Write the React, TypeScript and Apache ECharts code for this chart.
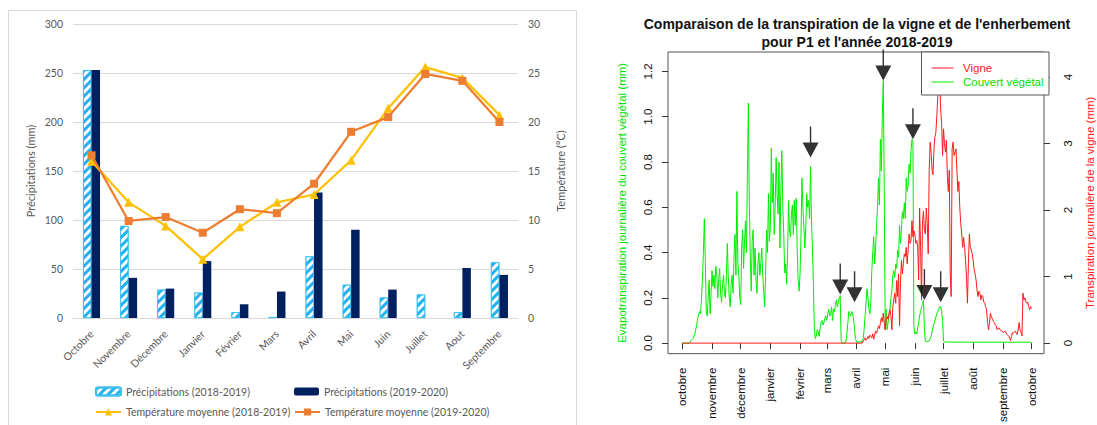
import React, { useEffect, useRef } from 'react';
import * as echarts from 'echarts';

// ---------- Left chart data ----------
const months = ['Octobre', 'Novembre', 'Décembre', 'Janvier', 'Février', 'Mars', 'Avril', 'Mai', 'Juin', 'Juillet', 'Aout', 'Septembre'];
const precip1819 = [253, 94, 29, 26, 6, 1, 63, 34, 21, 24, 6, 57];
const precip1920 = [253, 41, 30, 58, 14, 27, 128, 90, 29, 0, 51, 44];
const temp1819 = [16.0, 11.8, 9.4, 6.0, 9.3, 11.8, 12.6, 16.1, 21.4, 25.6, 24.5, 20.7];
const temp1920 = [16.6, 9.9, 10.3, 8.7, 11.1, 10.7, 13.7, 19.0, 20.5, 24.9, 24.2, 20.0];
const NAME_P1 = 'Précipitations (2018-2019)';
const NAME_P2 = 'Précipitations (2019-2020)';
const NAME_T1 = 'Température moyenne (2018-2019)';
const NAME_T2 = 'Température moyenne (2019-2020)';

// ---------- Right chart data (day 0 = 1 octobre 2018) ----------
const monthTickDays = [0, 31, 61, 92, 123, 151, 182, 212, 243, 273, 304, 335, 365];
const monthTickLabels = ['octobre', 'novembre', 'décembre', 'janvier', 'février', 'mars', 'avril', 'mai', 'juin', 'juillet', 'août', 'septembre', 'octobre'];
const greenTicks = [0, 0.2, 0.4, 0.6, 0.8, 1.0, 1.2];
const redTicks = [0, 1, 2, 3, 4];

const coverET: [number, number][] = [
  [0, 0], [7, 0], [9, 0.01], [11, 0.02], [13, 0.04], [15, 0.08], [16, 0.11], [18, 0.14], [19, 0.13], [20, 0.2], [21, 0.28], [22, 0.4], [23, 0.55], [24, 0.36], [25, 0.14], [26, 0.12], [27, 0.2], [28, 0.28], [29, 0.13], [30, 0.22], [31, 0.32], [32, 0.25], [33, 0.3], [34, 0.24], [35, 0.34], [36, 0.3], [37, 0.2], [38, 0.28], [39, 0.33], [40, 0.22], [41, 0.18], [42, 0.26], [43, 0.3], [44, 0.22], [45, 0.2], [46, 0.3], [47, 0.44], [48, 0.3], [49, 0.2], [50, 0.16], [51, 0.26], [52, 0.3], [53, 0.22], [54, 0.38], [55, 0.48], [56, 0.3], [57, 0.67], [58, 0.36], [59, 0.3], [60, 0.2], [61, 0.17], [62, 0.42], [63, 0.5], [64, 0.33], [65, 0.45], [66, 0.54], [67, 0.4], [68, 0.75], [69, 1.06], [70, 0.62], [71, 0.38], [72, 0.23], [73, 0.45], [74, 0.5], [75, 0.3], [76, 0.42], [77, 0.28], [78, 0.22], [79, 0.35], [80, 0.4], [81, 0.3], [82, 0.35], [83, 0.42], [84, 0.3], [85, 0.23], [86, 0.16], [87, 0.3], [88, 0.5], [89, 0.4], [90, 0.66], [91, 0.45], [92, 0.52], [93, 0.86], [94, 0.62], [95, 0.75], [96, 0.48], [97, 0.6], [98, 0.82], [99, 0.66], [100, 0.57], [101, 0.8], [102, 0.42], [103, 0.68], [104, 0.85], [105, 0.6], [106, 0.48], [107, 0.31], [108, 0.35], [109, 0.26], [110, 0.4], [111, 0.63], [112, 0.5], [113, 0.47], [114, 0.57], [115, 0.61], [116, 0.48], [117, 0.63], [118, 0.52], [119, 0.64], [120, 0.42], [121, 0.28], [122, 0.23], [123, 0.3], [124, 0.47], [125, 0.73], [126, 0.6], [127, 0.52], [128, 0.42], [129, 0.51], [130, 0.66], [131, 0.6], [132, 0.63], [133, 0.55], [134, 0.78], [135, 0.54], [136, 0.42], [137, 0.25], [138, 0.06], [139, 0.02], [140, 0.03], [141, 0.06], [142, 0.05], [143, 0.03], [144, 0.07], [145, 0.09], [146, 0.1], [147, 0.08], [148, 0.09], [149, 0.11], [150, 0.12], [151, 0.1], [152, 0.13], [153, 0.15], [154, 0.12], [155, 0.13], [156, 0.16], [157, 0.1], [158, 0.15], [159, 0.14], [160, 0.17], [161, 0.19], [162, 0.16], [163, 0.18], [164, 0.2], [165, 0.21], [166, 0.01], [167, 0], [170, 0], [171, 0.01], [172, 0.04], [173, 0.09], [174, 0.14], [175, 0.13], [176, 0.12], [177, 0.14], [178, 0.13], [179, 0.1], [180, 0.06], [181, 0.02], [182, 0.005], [187, 0.005], [189, 0.02], [190, 0.06], [191, 0.12], [192, 0.18], [193, 0.24], [194, 0.2], [195, 0.15], [196, 0.13], [197, 0.18], [198, 0.32], [199, 0.4], [200, 0.47], [201, 0.35], [202, 0.42], [203, 0.52], [204, 0.6], [205, 0.73], [206, 0.61], [207, 0.9], [208, 0.76], [209, 1.0], [210, 1.16], [211, 0.7], [212, 0.06], [213, 0.15], [214, 0.06], [215, 0.09], [216, 0.12], [217, 0.15], [218, 0.2], [219, 0.23], [220, 0.3], [221, 0.32], [222, 0.29], [223, 0.35], [224, 0.33], [225, 0.41], [226, 0.38], [227, 0.52], [228, 0.44], [229, 0.5], [230, 0.58], [231, 0.55], [232, 0.62], [233, 0.55], [234, 0.73], [235, 0.67], [236, 0.7], [237, 0.79], [238, 0.75], [239, 0.85], [240, 0.9], [241, 0.89], [242, 0.07], [243, 0.04], [244, 0.05], [245, 0.04], [246, 0.07], [247, 0.09], [248, 0.12], [249, 0.14], [250, 0.16], [251, 0.17], [252, 0.19], [253, 0.06], [254, 0.01], [255, 0.005], [258, 0.01], [260, 0.03], [262, 0.07], [264, 0.1], [266, 0.13], [268, 0.15], [269, 0.16], [270, 0.16], [271, 0.14], [272, 0.1], [273, 0.01], [274, 0.005], [300, 0.004], [365, 0.004],
];

const vineT: [number, number][] = [
  [0, 0], [188, 0], [189, 0.03], [190, 0.05], [191, 0.08], [192, 0.04], [193, 0.06], [194, 0.1], [195, 0.07], [196, 0.12], [197, 0.1], [198, 0.08], [199, 0.14], [200, 0.06], [201, 0.12], [202, 0.18], [203, 0.15], [204, 0.2], [205, 0.26], [206, 0.22], [207, 0.3], [208, 0.38], [209, 0.32], [210, 0.45], [211, 0.3], [212, 0.2], [213, 0.35], [214, 0.4], [215, 0.36], [216, 0.45], [217, 0.5], [218, 0.42], [219, 0.2], [220, 0.55], [221, 0.65], [222, 0.75], [223, 0.6], [224, 0.94], [225, 0.7], [226, 1.04], [227, 0.26], [228, 0.9], [229, 1.24], [230, 1.04], [231, 1.2], [232, 1.34], [233, 1.3], [234, 1.44], [235, 1.19], [236, 1.4], [237, 1.64], [238, 1.5], [239, 1.54], [240, 1.84], [241, 1.6], [242, 1.69], [243, 1.64], [244, 1.5], [245, 1.54], [246, 1.44], [247, 0.95], [248, 2.03], [249, 1.44], [250, 0.65], [251, 1.84], [252, 1.98], [253, 1.7], [254, 1.64], [255, 2.03], [256, 1.8], [257, 1.34], [258, 2.6], [259, 3.02], [260, 2.87], [261, 2.6], [262, 2.53], [263, 2.92], [264, 3.1], [265, 3.17], [266, 3.42], [267, 3.71], [268, 4.0], [269, 3.96], [270, 3.52], [271, 3.3], [272, 2.82], [273, 3.22], [274, 3.0], [275, 2.87], [276, 3.05], [277, 2.5], [278, 2.28], [279, 2.6], [280, 1.04], [281, 0.7], [282, 2.92], [283, 3.02], [284, 2.82], [285, 2.87], [286, 2.92], [287, 2.6], [288, 2.28], [289, 2.43], [290, 2.03], [291, 1.8], [292, 1.64], [293, 1.44], [294, 1.59], [295, 1.44], [296, 1.24], [297, 0.99], [298, 0.6], [299, 1.2], [300, 1.64], [301, 1.44], [302, 1.4], [303, 1.34], [304, 1.24], [305, 1.1], [306, 1.04], [307, 0.95], [308, 0.8], [309, 0.7], [310, 0.78], [311, 0.75], [312, 0.65], [313, 0.72], [314, 0.7], [315, 0.62], [316, 0.6], [317, 0.55], [318, 0.5], [319, 0.31], [320, 0.2], [321, 0.3], [322, 0.45], [323, 0.4], [324, 0.36], [325, 0.33], [326, 0.31], [327, 0.28], [328, 0.26], [329, 0.2], [330, 0.22], [331, 0.23], [332, 0.2], [333, 0.19], [334, 0.18], [335, 0.17], [336, 0.16], [337, 0.18], [338, 0.17], [339, 0.13], [340, 0.12], [341, 0.11], [342, 0.08], [343, 0.04], [344, 0.1], [345, 0.16], [346, 0.15], [347, 0.16], [348, 0.18], [349, 0.15], [350, 0.13], [351, 0.2], [352, 0.31], [353, 0.2], [354, 0.16], [355, 0.11], [356, 0.75], [357, 0.65], [358, 0.68], [359, 0.62], [360, 0.6], [361, 0.62], [362, 0.55], [363, 0.5], [364, 0.55], [365, 0.52],
];

const arrowDays = [134, 165, 180, 210, 241, 253, 270];
const arrowTips = [0.82, 0.215, 0.18, 1.16, 0.9, 0.19, 0.18];

const DAY_MIN = -15;
const DAY_MAX = 378;

const LEFT_FONT = 'Lato, "Open Sans", sans-serif';
const R_FONT = '"Liberation Sans", Arial, sans-serif';
const GRAY = '#595959';

export default function App() {
  const ref = useRef<HTMLDivElement>(null);
  useEffect(() => {
    if (!ref.current) return;
    const chart = echarts.init(ref.current, undefined, { renderer: 'svg' });
    const dayCats: string[] = [];
    for (let d = DAY_MIN; d <= DAY_MAX; d++) dayCats.push(String(d));
    const isMonthStart = (_i: number, v: string) => monthTickDays.indexOf(Number(v)) >= 0;

    const legendBase = {
      padding: 0,
      itemWidth: 25,
      itemHeight: 8,
      textStyle: { fontFamily: LEFT_FONT, fontSize: 10.5, color: GRAY },
      selectedMode: false as const,
    };

    const option: any = {
      animation: false,
      grid: [
        { left: 73, right: 579, top: 24, bottom: 107 },
        { left: 668, right: 48, top: 52, bottom: 67, show: true, borderColor: '#555', borderWidth: 1, backgroundColor: 'transparent' },
      ],
      legend: [
        { ...legendBase, data: [NAME_P1], left: 95, top: 386 },
        { ...legendBase, data: [NAME_P2], left: 294, top: 386 },
        { ...legendBase, data: [NAME_T1], left: 95, top: 406.5, itemHeight: 9 },
        { ...legendBase, data: [NAME_T2], left: 294, top: 406.5, itemHeight: 9 },
      ],
      xAxis: [
        {
          type: 'category', gridIndex: 0, data: months,
          axisLine: { lineStyle: { color: '#d9d9d9' } },
          axisTick: { show: false },
          axisLabel: { rotate: 45, interval: 0, fontFamily: LEFT_FONT, fontSize: 10.5, color: GRAY, margin: 14 },
        },
        {
          type: 'category', gridIndex: 1, data: dayCats, boundaryGap: false,
          axisLine: { show: false },
          axisTick: { show: true, interval: isMonthStart, length: 6, lineStyle: { color: '#333' } },
          axisLabel: {
            interval: isMonthStart, rotate: 90, margin: 14, fontFamily: R_FONT, fontSize: 11.5, color: '#111',
            formatter: (v: string) => monthTickLabels[monthTickDays.indexOf(Number(v))],
          },
          splitLine: { show: false },
        },
      ],
      yAxis: [
        {
          type: 'value', gridIndex: 0, min: 0, max: 300, interval: 50,
          axisLine: { show: false }, axisTick: { show: false },
          splitLine: { lineStyle: { color: '#d9d9d9' } },
          axisLabel: { fontFamily: LEFT_FONT, fontSize: 10.5, color: GRAY, margin: 10 },
          name: 'Précipitations (mm)', nameLocation: 'middle', nameGap: 37,
          nameTextStyle: { fontFamily: LEFT_FONT, fontSize: 11, color: GRAY },
        },
        {
          type: 'value', gridIndex: 0, min: 0, max: 30, interval: 5, position: 'right',
          axisLine: { show: false }, axisTick: { show: false }, splitLine: { show: false },
          axisLabel: { fontFamily: LEFT_FONT, fontSize: 10.5, color: GRAY, margin: 10 },
          name: 'Température (°C)', nameLocation: 'middle', nameGap: 37, nameRotate: 90,
          nameTextStyle: { fontFamily: LEFT_FONT, fontSize: 11, color: GRAY },
        },
        {
          type: 'value', gridIndex: 1, position: 'left', min: -0.0466, max: 1.2858,
          axisLine: { show: false }, splitLine: { show: false },
          axisTick: { show: true, length: 6, customValues: greenTicks, lineStyle: { color: '#333' } },
          axisLabel: {
            customValues: greenTicks, rotate: 90, margin: 14, fontFamily: R_FONT, fontSize: 11.5, color: '#111',
            formatter: (v: number) => v.toFixed(1),
          },
          name: 'Evapotranspiration journalière du couvert végétal (mm)', nameLocation: 'middle', nameGap: 40,
          nameTextStyle: { fontFamily: R_FONT, fontSize: 11.5, color: '#00e000' },
        },
        {
          type: 'value', gridIndex: 1, position: 'right', min: -0.1585, max: 4.375,
          axisLine: { show: false }, splitLine: { show: false },
          axisTick: { show: true, length: 6, customValues: redTicks, lineStyle: { color: '#333' } },
          axisLabel: {
            customValues: redTicks, rotate: 90, margin: 18, fontFamily: R_FONT, fontSize: 11.5, color: '#111',
          },
          name: 'Transpiration journalière de la vigne (mm)', nameLocation: 'middle', nameGap: 40, nameRotate: 90,
          nameTextStyle: { fontFamily: R_FONT, fontSize: 11.5, color: '#ff2020' },
        },
      ],
      series: [
        {
          name: NAME_P1, type: 'bar', xAxisIndex: 0, yAxisIndex: 0, data: precip1819,
          barWidth: 8.5, barGap: '0%',
          itemStyle: {
            color: '#ffffff', borderColor: '#3fc0f0', borderWidth: 0.8,
            decal: { symbol: 'rect', symbolSize: 1, color: '#1fb3ee', dashArrayX: [1, 0], dashArrayY: [2.5, 2.5], rotation: -Math.PI / 4 },
          },
        },
        {
          name: NAME_P2, type: 'bar', xAxisIndex: 0, yAxisIndex: 0, data: precip1920,
          barWidth: 8.5, barGap: '0%', itemStyle: { color: '#002060' },
        },
        {
          name: NAME_T1, type: 'line', xAxisIndex: 0, yAxisIndex: 1, data: temp1819,
          symbol: 'triangle', symbolSize: 9, itemStyle: { color: '#ffc000' }, lineStyle: { color: '#ffc000', width: 2.25 }, z: 4,
        },
        {
          name: NAME_T2, type: 'line', xAxisIndex: 0, yAxisIndex: 1, data: temp1920,
          symbol: 'rect', symbolSize: 8, itemStyle: { color: '#ed7d31' }, lineStyle: { color: '#ed7d31', width: 2.25 }, z: 5,
        },
        {
          name: 'Couvert végétal', type: 'line', xAxisIndex: 1, yAxisIndex: 2,
          data: coverET.map(([d, v]) => [String(d), v]),
          showSymbol: false, symbol: 'none', lineStyle: { color: '#00ee00', width: 1 }, z: 2,
        },
        {
          name: 'Vigne', type: 'line', xAxisIndex: 1, yAxisIndex: 3,
          data: vineT.map(([d, v]) => [String(d), v]),
          showSymbol: false, symbol: 'none', lineStyle: { color: '#ff1a1a', width: 1 }, z: 3,
        },
        {
          name: 'flèches', type: 'scatter', xAxisIndex: 1, yAxisIndex: 2,
          data: arrowDays.map((d, i) => [String(d), arrowTips[i]]),
          symbol: 'path://M7.3,0L8.7,0L8.7,16L16,16L8,31L0,16L7.3,16Z',
          symbolSize: [16, 31], symbolOffset: [0, '-50%'],
          itemStyle: { color: '#000' }, z: 10, silent: true,
        },
      ],
      graphic: [
        { type: 'rect', z: -1, shape: { x: 8.5, y: 10.5, width: 568, height: 430 }, style: { fill: 'none', stroke: '#d9d9d9', lineWidth: 1 } },
        { type: 'text', z: 20, x: 857, y: 24, style: { text: "Comparaison de la transpiration de la vigne et de l'enherbement", textAlign: 'center', textVerticalAlign: 'middle', font: `bold 14px ${R_FONT}`, fill: '#111' } },
        { type: 'text', z: 20, x: 857, y: 41.5, style: { text: "pour P1 et l'année 2018-2019", textAlign: 'center', textVerticalAlign: 'middle', font: `bold 14px ${R_FONT}`, fill: '#111' } },
        { type: 'rect', z: 50, shape: { x: 921.5, y: 52, width: 127.5, height: 43 }, style: { fill: '#fff', stroke: '#555', lineWidth: 1 } },
        { type: 'line', z: 51, shape: { x1: 931.5, y1: 68, x2: 953.5, y2: 68 }, style: { stroke: '#ff1a1a', lineWidth: 1 } },
        { type: 'line', z: 51, shape: { x1: 931.5, y1: 82, x2: 953.5, y2: 82 }, style: { stroke: '#00ee00', lineWidth: 1 } },
        { type: 'text', z: 51, x: 963, y: 68, style: { text: 'Vigne', textVerticalAlign: 'middle', font: `11.5px ${R_FONT}`, fill: '#ff1a1a' } },
        { type: 'text', z: 51, x: 963, y: 82, style: { text: 'Couvert végétal', textVerticalAlign: 'middle', font: `11.5px ${R_FONT}`, fill: '#00e000' } },
      ],
    };
    chart.setOption(option);
    return () => chart.dispose();
  }, []);
  return <div ref={ref} style={{ position: 'fixed', left: 0, top: 0, width: 1097, height: 425, background: '#fff' }} />;
}
